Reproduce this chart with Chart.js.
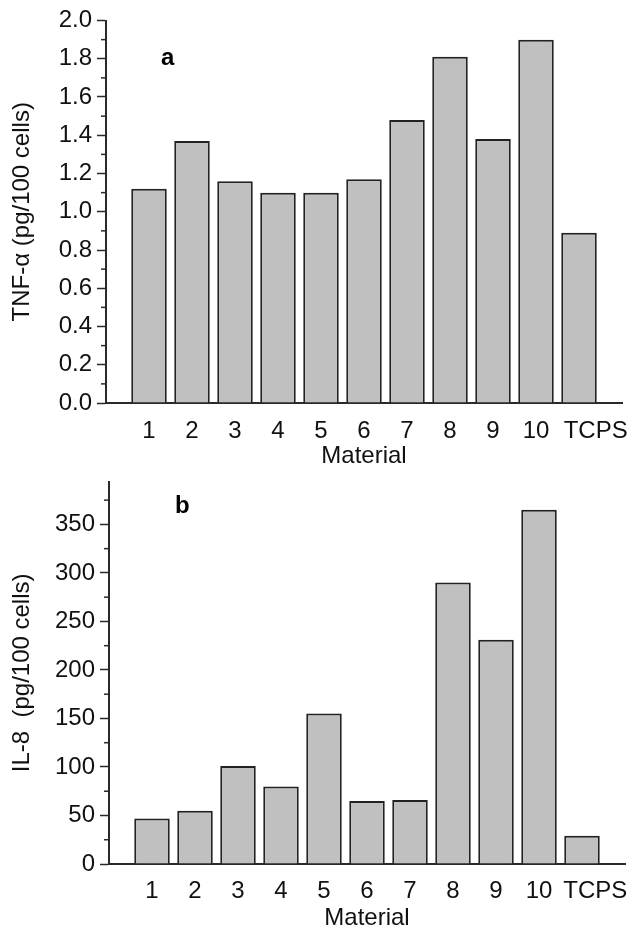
<!DOCTYPE html>
<html><head><meta charset="utf-8">
<script src="https://cdn.jsdelivr.net/npm/chart.js@4"></script>
<style>
html,body{margin:0;padding:0;background:#fff;overflow:hidden;width:632px;height:929px;}
#wrap{position:relative;width:632px;height:929px;}
canvas{position:absolute;left:0;}
#ca{top:0}
#cb{top:460px}
.panel{position:absolute;font:bold 24px "Liberation Sans",Arial,sans-serif;line-height:24px;color:#000}
</style></head><body>
<div id="wrap">
<canvas id="ca" width="632" height="471"></canvas>
<canvas id="cb" width="632" height="473"></canvas>
<div class="panel" style="left:161px;top:45px">a</div>
<div class="panel" style="left:175px;top:493px">b</div>
</div>
<script>
const categories = ['1','2','3','4','5','6','7','8','9','10','TCPS'];
const tnfAlpha = [1.12, 1.37, 1.16, 1.10, 1.10, 1.17, 1.48, 1.81, 1.38, 1.90, 0.89];
const il8 = [47, 55, 101, 80, 155, 65, 66, 290, 231, 365, 29];
const tnfAxis = {min: 0, max: 2.0, major: 0.2, minor: 0.1, dec: 1};
const il8Axis = {min: 0, max: 394, major: 50, minor: 25, dec: 0};
const xTitle = 'Material';
const tnfTitle = 'TNF-α (pg/100 cells)';
const il8Title = 'IL-8  (pg/100 cells)';

const FONT = {family: '"Liberation Sans", Arial, sans-serif', size: 24};
const INK = '#111';
const AXIS = '#2a2a2a';

function isMajor(v, major) {
  const r = v / major;
  return Math.abs(r - Math.round(r)) < 1e-6;
}

const minorTicks = {
  id: 'minorTicks',
  afterDraw(chart, args, opts) {
    const s = chart.scales.y, ctx = chart.ctx;
    const x1 = s.right, x0 = s.right - 5;
    ctx.save();
    ctx.strokeStyle = AXIS;
    ctx.lineWidth = 1.5;
    const n = Math.floor((s.max - s.min) / opts.step + 1e-6);
    for (let i = 1; i <= n; i++) {
      const v = s.min + i * opts.step;
      if (isMajor(v, opts.major)) continue;
      const y = s.getPixelForValue(v);
      ctx.beginPath();
      ctx.moveTo(x0, y);
      ctx.lineTo(x1, y);
      ctx.stroke();
    }
    ctx.restore();
  }
};

function makeChart(id, values, ax, yTitle, dims) {
  const labels = ['', ...categories, ''];
  const data = [null, ...values, null];
  return new Chart(document.getElementById(id), {
    type: 'bar',
    data: {
      labels,
      datasets: [{
        data,
        backgroundColor: '#c0c0c0',
        borderColor: '#222',
        borderWidth: 2,
        barPercentage: 0.826,
        categoryPercentage: 1.0
      }]
    },
    options: {
      responsive: false,
      maintainAspectRatio: false,
      animation: false,
      layout: {padding: {left: 0, right: dims.right, top: dims.top, bottom: 0}},
      plugins: {
        legend: {display: false},
        tooltip: {enabled: false},
        minorTicks: {step: ax.minor, major: ax.major}
      },
      scales: {
        x: {
          type: 'category',
          offset: false,
          grid: {display: false},
          border: {display: true, color: AXIS, width: 2},
          ticks: {
            autoSkip: false, maxRotation: 0, minRotation: 0,
            padding: dims.xpad, color: INK, font: FONT,
            callback(v, i) {
              const l = labels[i];
              return l === 'TCPS' ? ' '.repeat(dims.tcpsPad) + l : l;
            }
          },
          title: {display: true, text: xTitle, color: INK, font: FONT, padding: 0},
          afterFit(s) { s.height = dims.xh; }
        },
        y: {
          min: ax.min, max: ax.max, bounds: 'data',
          grid: {
            display: true, drawOnChartArea: false, drawTicks: true, tickLength: 9, tickWidth: 1.5,
            tickColor: c => (c.tick && isMajor(c.tick.value, ax.major)) ? AXIS : 'rgba(0,0,0,0)'
          },
          border: {display: true, color: AXIS, width: 2},
          ticks: {
            stepSize: ax.major, includeBounds: false, padding: 5, color: INK, font: FONT,
            callback: v => isMajor(v, ax.major) ? Number(v).toFixed(ax.dec) : ''
          },
          title: {display: true, text: yTitle, color: INK, font: FONT, padding: {top: 8, bottom: 0}},
          afterFit(s) { s.width = dims.yw; }
        }
      }
    },
    plugins: [minorTicks]
  });
}

makeChart('ca', tnfAlpha, tnfAxis, tnfTitle, {top: 20.5, right: 10, yw: 106, xh: 68, xpad: 6, tcpsPad: 5});
makeChart('cb', il8, il8Axis, il8Title, {top: 21.7, right: 7, yw: 109, xh: 69, xpad: 5, tcpsPad: 4});
</script>
</body></html>
